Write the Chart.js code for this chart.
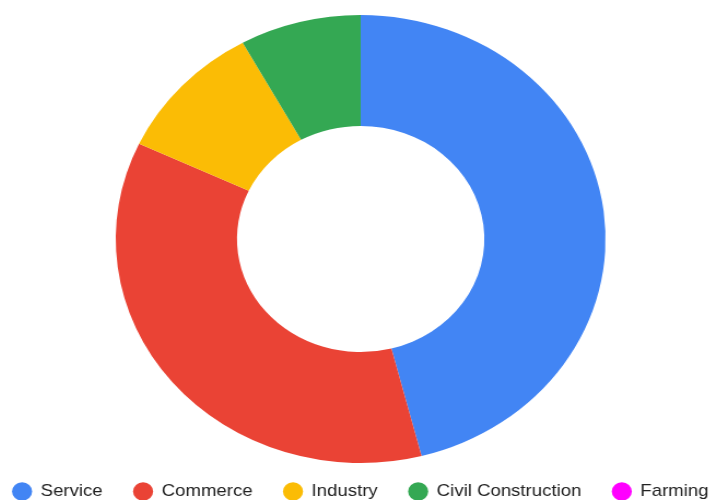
<!DOCTYPE html>
<html>
<head>
<meta charset="utf-8">
<script src="https://cdn.jsdelivr.net/npm/chart.js@4/dist/chart.umd.min.js"></script>
<style>
  html, body { margin: 0; padding: 0; background: #fff; overflow: hidden; }
  #wrap { position: relative; width: 715px; height: 500px; overflow: hidden; }
  #c { position: absolute; left: 0; top: 0; transform-origin: 0 0; transform: translateX(-22px) scaleX(1.0933); }
</style>
</head>
<body>
<div id="wrap"><canvas id="c" width="700" height="510" style="width:700px;height:510px"></canvas></div>
<script>
const categories = ["Service", "Commerce", "Industry", "Civil Construction", "Farming"];
const shares = [46, 36, 10, 8, 0];
const colors = ["#4285F4", "#EA4335", "#FBBC05", "#34A853", "#FF00FF"];

new Chart(document.getElementById('c'), {
  type: 'doughnut',
  data: {
    labels: categories,
    datasets: [{
      data: shares,
      backgroundColor: colors,
      borderWidth: 0,
      hoverOffset: 0,
      clip: false
    }]
  },
  options: {
    responsive: false,
    animation: false,
    cutout: '50.5%',
    radius: 224,
    layout: { padding: { top: 23.5, left: 0, right: 0, bottom: 0 } },
    plugins: {
      tooltip: { enabled: false },
      legend: {
        position: 'bottom',
        labels: {
          usePointStyle: true,
          pointStyle: 'circle',
          boxWidth: 17,
          boxHeight: 13,
          padding: 28.5,
          color: '#222',
          font: { family: "'Liberation Sans', Arial, sans-serif", size: 17 }
        }
      }
    }
  }
});
</script>
</body>
</html>
